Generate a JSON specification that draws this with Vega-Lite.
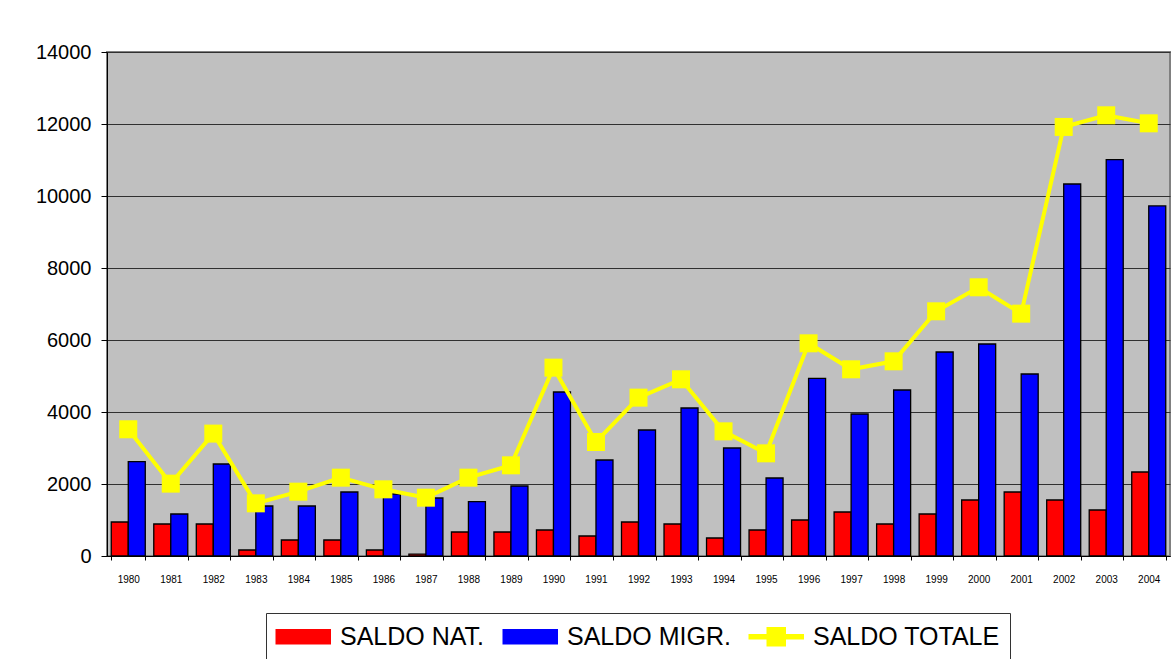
{
  "$schema": "https://vega.github.io/schema/vega-lite/v6.json",
  "width": 1063,
  "height": 504,
  "autosize": "none",
  "padding": {"left": 107, "top": 52, "right": 6, "bottom": 103},
  "background": "white",
  "config": {
    "font": "Liberation Sans",
    "view": {"fill": "#C0C0C0", "stroke": "#808080", "strokeWidth": 2}
  },
  "data": {
    "values": [
      {"year": "1980", "serie": "SALDO NAT.", "value": 945},
      {"year": "1980", "serie": "SALDO MIGR.", "value": 2620},
      {"year": "1980", "serie": "SALDO TOTALE", "value": 3520},
      {"year": "1981", "serie": "SALDO NAT.", "value": 889},
      {"year": "1981", "serie": "SALDO MIGR.", "value": 1167},
      {"year": "1981", "serie": "SALDO TOTALE", "value": 2010},
      {"year": "1982", "serie": "SALDO NAT.", "value": 889},
      {"year": "1982", "serie": "SALDO MIGR.", "value": 2556},
      {"year": "1982", "serie": "SALDO TOTALE", "value": 3400},
      {"year": "1983", "serie": "SALDO NAT.", "value": 167},
      {"year": "1983", "serie": "SALDO MIGR.", "value": 1389},
      {"year": "1983", "serie": "SALDO TOTALE", "value": 1463},
      {"year": "1984", "serie": "SALDO NAT.", "value": 444},
      {"year": "1984", "serie": "SALDO MIGR.", "value": 1389},
      {"year": "1984", "serie": "SALDO TOTALE", "value": 1787},
      {"year": "1985", "serie": "SALDO NAT.", "value": 444},
      {"year": "1985", "serie": "SALDO MIGR.", "value": 1778},
      {"year": "1985", "serie": "SALDO TOTALE", "value": 2176},
      {"year": "1986", "serie": "SALDO NAT.", "value": 167},
      {"year": "1986", "serie": "SALDO MIGR.", "value": 1722},
      {"year": "1986", "serie": "SALDO TOTALE", "value": 1852},
      {"year": "1987", "serie": "SALDO NAT.", "value": 50},
      {"year": "1987", "serie": "SALDO MIGR.", "value": 1611},
      {"year": "1987", "serie": "SALDO TOTALE", "value": 1620},
      {"year": "1988", "serie": "SALDO NAT.", "value": 667},
      {"year": "1988", "serie": "SALDO MIGR.", "value": 1509},
      {"year": "1988", "serie": "SALDO TOTALE", "value": 2176},
      {"year": "1989", "serie": "SALDO NAT.", "value": 667},
      {"year": "1989", "serie": "SALDO MIGR.", "value": 1944},
      {"year": "1989", "serie": "SALDO TOTALE", "value": 2519},
      {"year": "1990", "serie": "SALDO NAT.", "value": 722},
      {"year": "1990", "serie": "SALDO MIGR.", "value": 4556},
      {"year": "1990", "serie": "SALDO TOTALE", "value": 5232},
      {"year": "1991", "serie": "SALDO NAT.", "value": 556},
      {"year": "1991", "serie": "SALDO MIGR.", "value": 2667},
      {"year": "1991", "serie": "SALDO TOTALE", "value": 3167},
      {"year": "1992", "serie": "SALDO NAT.", "value": 945},
      {"year": "1992", "serie": "SALDO MIGR.", "value": 3500},
      {"year": "1992", "serie": "SALDO TOTALE", "value": 4399},
      {"year": "1993", "serie": "SALDO NAT.", "value": 889},
      {"year": "1993", "serie": "SALDO MIGR.", "value": 4111},
      {"year": "1993", "serie": "SALDO TOTALE", "value": 4908},
      {"year": "1994", "serie": "SALDO NAT.", "value": 500},
      {"year": "1994", "serie": "SALDO MIGR.", "value": 3000},
      {"year": "1994", "serie": "SALDO TOTALE", "value": 3463},
      {"year": "1995", "serie": "SALDO NAT.", "value": 722},
      {"year": "1995", "serie": "SALDO MIGR.", "value": 2167},
      {"year": "1995", "serie": "SALDO TOTALE", "value": 2852},
      {"year": "1996", "serie": "SALDO NAT.", "value": 1000},
      {"year": "1996", "serie": "SALDO MIGR.", "value": 4936},
      {"year": "1996", "serie": "SALDO TOTALE", "value": 5908},
      {"year": "1997", "serie": "SALDO NAT.", "value": 1222},
      {"year": "1997", "serie": "SALDO MIGR.", "value": 3945},
      {"year": "1997", "serie": "SALDO TOTALE", "value": 5186},
      {"year": "1998", "serie": "SALDO NAT.", "value": 889},
      {"year": "1998", "serie": "SALDO MIGR.", "value": 4611},
      {"year": "1998", "serie": "SALDO TOTALE", "value": 5408},
      {"year": "1999", "serie": "SALDO NAT.", "value": 1167},
      {"year": "1999", "serie": "SALDO MIGR.", "value": 5667},
      {"year": "1999", "serie": "SALDO TOTALE", "value": 6797},
      {"year": "2000", "serie": "SALDO NAT.", "value": 1556},
      {"year": "2000", "serie": "SALDO MIGR.", "value": 5889},
      {"year": "2000", "serie": "SALDO TOTALE", "value": 7464},
      {"year": "2001", "serie": "SALDO NAT.", "value": 1778},
      {"year": "2001", "serie": "SALDO MIGR.", "value": 5056},
      {"year": "2001", "serie": "SALDO TOTALE", "value": 6732},
      {"year": "2002", "serie": "SALDO NAT.", "value": 1556},
      {"year": "2002", "serie": "SALDO MIGR.", "value": 10334},
      {"year": "2002", "serie": "SALDO TOTALE", "value": 11918},
      {"year": "2003", "serie": "SALDO NAT.", "value": 1278},
      {"year": "2003", "serie": "SALDO MIGR.", "value": 11010},
      {"year": "2003", "serie": "SALDO TOTALE", "value": 12242},
      {"year": "2004", "serie": "SALDO NAT.", "value": 2334},
      {"year": "2004", "serie": "SALDO MIGR.", "value": 9723},
      {"year": "2004", "serie": "SALDO TOTALE", "value": 12019}
    ]
  },
  "encoding": {
    "x": {
      "field": "year",
      "type": "ordinal",
      "title": null,
      "scale": {"paddingInner": 0.2, "paddingOuter": 0.1},
      "axis": {
        "labelAngle": 0,
        "labelFontSize": 10,
        "labelColor": "black",
        "labelPadding": 14,
        "tickBand": "extent",
        "tickSize": 4,
        "tickColor": "black",
        "domainColor": "black",
        "domainWidth": 1,
        "grid": false
      }
    },
    "y": {
      "field": "value",
      "type": "quantitative",
      "title": null,
      "scale": {"domain": [0, 14000], "nice": false},
      "axis": {
        "values": [0, 2000, 4000, 6000, 8000, 10000, 12000, 14000],
        "format": "d",
        "labelFontSize": 20,
        "labelColor": "black",
        "labelPadding": 10,
        "tickSize": 6,
        "tickColor": "black",
        "domainColor": "black",
        "domainWidth": 1,
        "grid": true,
        "gridColor": "#303030",
        "gridWidth": 1
      }
    },
    "color": {
      "field": "serie",
      "type": "nominal",
      "scale": {
        "domain": ["SALDO NAT.", "SALDO MIGR.", "SALDO TOTALE"],
        "range": ["#FF0000", "#0000FF", "#FFFF00"]
      },
      "legend": {
        "title": null,
        "orient": "none",
        "direction": "horizontal",
        "legendX": 159,
        "legendY": 561,
        "padding": 10,
        "strokeColor": "#333333",
        "fillColor": "white",
        "labelFontSize": 25,
        "labelColor": "black",
        "labelOffset": 37,
        "columnPadding": 15,
        "symbolSize": 625,
        "symbolStrokeColor": "black",
        "symbolStrokeWidth": 1.5,
        "labelLimit": 400,
        "encode": {
          "symbols": {
            "update": {
              "shape": {"signal": "datum.value === 'SALDO TOTALE' ? 'M-1.06,-0.16H0.38V-0.72H1.82V-0.16H3.26V0.16H1.82V0.72H0.38V0.16H-1.06Z' : 'M-1.06,-0.56H3.26V0.56H-1.06Z'"},
              "fill": {"signal": "scale('color', datum.value)"},
              "fillOpacity": {"value": 1},
              "opacity": {"value": 1},
              "stroke": {"signal": "datum.value === 'SALDO TOTALE' ? 'transparent' : 'black'"},
              "strokeOpacity": {"value": 1},
              "strokeWidth": {"value": 1.5}
            }
          }
        }
      }
    }
  },
  "layer": [
    {
      "transform": [{"filter": "datum.serie !== 'SALDO TOTALE'"}],
      "mark": {"type": "bar", "stroke": "black", "strokeWidth": 1.3, "opacity": 1},
      "encoding": {
        "xOffset": {
          "field": "serie",
          "type": "nominal",
          "sort": ["SALDO NAT.", "SALDO MIGR."],
          "scale": {"paddingInner": 0, "paddingOuter": 0}
        }
      }
    },
    {
      "transform": [{"filter": "datum.serie === 'SALDO TOTALE'"}],
      "mark": {
        "type": "line",
        "strokeWidth": 4,
        "point": {"shape": "square", "size": 324, "filled": true, "opacity": 1}
      }
    }
  ]
}
